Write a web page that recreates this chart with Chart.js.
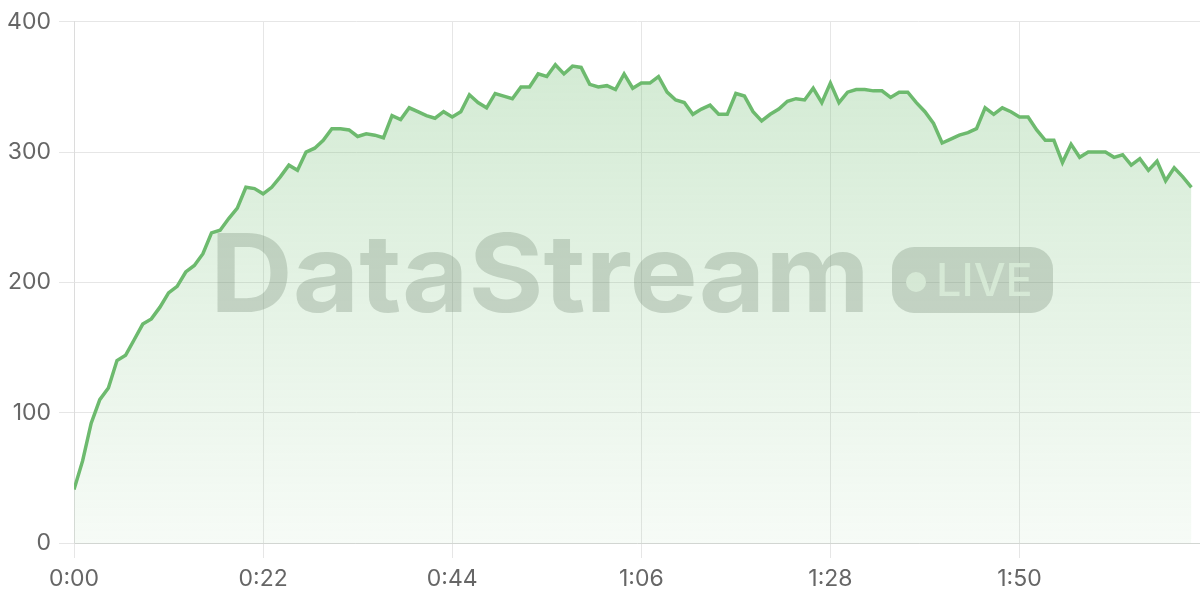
<!DOCTYPE html>
<html>
<head>
<meta charset="utf-8">
<script src="https://cdn.jsdelivr.net/npm/chart.js@4/dist/chart.umd.min.js"></script>
<style>
html,body{margin:0;padding:0;background:#fff;}
#wrap{width:1200px;height:600px;position:relative;}
</style>
</head>
<body>
<div id="wrap"><canvas id="c" width="1200" height="600"></canvas></div>
<script>
// Seconds elapsed (x) and values (y)
const seconds = [
  0,1,2,3,4,5,6,7,8,9,10,11,12,13,14,15,16,17,18,19,
  20,21,22,23,24,25,26,27,28,29,30,31,32,33,34,35,36,37,38,39,
  40,41,42,43,44,45,46,47,48,49,50,51,52,53,54,55,56,57,58,59,
  60,61,62,63,64,65,66,67,68,69,70,71,72,73,74,75,76,77,78,79,
  80,81,82,83,84,85,86,87,88,89,90,91,92,93,94,95,96,97,98,99,
  100,101,102,103,104,105,106,107,108,109,110,111,112,113,114,115,116,117,118,119,
  120,121,122,123,124,125,126,127,128,129,130
];
const values = [
  41,63,92,110,119,140,144,156,168,172,181,192,197,208,213,222,238,240,249,257,
  273,272,268,273,281,290,286,300,303,309,318,318,317,312,314,313,311,328,325,334,
  331,328,326,331,327,331,344,338,334,345,343,341,350,350,360,358,367,360,366,365,
  352,350,351,348,360,349,353,353,358,346,340,338,329,333,336,329,329,345,343,331,
  324,329,333,339,341,340,349,338,353,338,346,348,348,347,347,342,346,346,338,331,
  322,307,310,313,315,318,334,329,334,331,327,327,317,309,309,292,306,296,300,300,
  300,296,298,290,295,286,293,278,288,281,273
];
const yTicks = [0,100,200,300,400];
const xTickSeconds = [0,22,44,66,88,110];
const watermarkText = "DataStream";
const badgeText = "LIVE";

function fmtTime(s){
  const m = Math.floor(s/60), r = Math.round(s%60);
  return m + ":" + (r<10?"0":"") + r;
}

const watermark = {
  id:'watermark',
  beforeDatasetsDraw(chart){
    const ctx = chart.ctx;
    ctx.save();
    const wmColor = 'rgba(98,108,98,0.27)';
    ctx.fillStyle = wmColor;
    ctx.font = 'bold 108px Inter, "Noto Sans", sans-serif';
    ctx.textBaseline = 'alphabetic';
    ctx.textAlign = 'left';
    const base = 312;
    const w = ctx.measureText(watermarkText).width;
    const targetW = 660;
    ctx.save();
    ctx.translate(210, base);
    ctx.scale(targetW / w, 1);
    ctx.fillText(watermarkText, 0, 0);
    ctx.restore();
    // pill
    const px=892, py=247, pw=161, ph=66, r=22;
    ctx.beginPath();
    ctx.moveTo(px+r,py);
    ctx.lineTo(px+pw-r,py);
    ctx.arcTo(px+pw,py,px+pw,py+r,r);
    ctx.lineTo(px+pw,py+ph-r);
    ctx.arcTo(px+pw,py+ph,px+pw-r,py+ph,r);
    ctx.lineTo(px+r,py+ph);
    ctx.arcTo(px,py+ph,px,py+ph-r,r);
    ctx.lineTo(px,py+r);
    ctx.arcTo(px,py,px+r,py,r);
    ctx.closePath();
    ctx.fill();
    ctx.fillStyle = 'rgba(240,245,239,0.92)';
    ctx.beginPath();
    ctx.arc(916,282,10,0,Math.PI*2);
    ctx.fill();
    ctx.font = '500 45px Inter, "Noto Sans", sans-serif';
    ctx.textBaseline = 'alphabetic';
    ctx.fillText(badgeText, 936, 296);
    ctx.restore();
  }
};

const ctx = document.getElementById('c').getContext('2d');
const grad = ctx.createLinearGradient(0, 19, 0, 543);
grad.addColorStop(0, 'rgba(109,187,111,0.32)');
grad.addColorStop(1, 'rgba(109,187,111,0.06)');

new Chart(ctx, {
  type:'line',
  data:{
    datasets:[{
      data: seconds.map((s,i)=>({x:s,y:values[i]})),
      borderColor:'#6dba6e',
      borderWidth:3.5,
      backgroundColor:grad,
      fill:'origin',
      tension:0,
      pointRadius:0
    }]
  },
  options:{
    responsive:false,
    animation:false,
    devicePixelRatio:1,
    layout:{padding:{top:4,right:0,left:0,bottom:0}},
    plugins:{legend:{display:false},tooltip:{enabled:false}},
    scales:{
      x:{
        type:'linear',
        min:0,max:131,
        afterFit(s){ s.height = 57; },
        afterBuildTicks(s){ s.ticks = xTickSeconds.map(v=>({value:v})); },
        ticks:{
          includeBounds:false,
          callback:(v)=>fmtTime(v),
          color:'#666',
          font:{family:'Inter, "Noto Sans", sans-serif', size:23},
          padding:7,
          maxRotation:0
        },
        grid:{color:'#e6e6e6', tickLength:15, drawTicks:true},
        border:{color:'#d2d6d2', width:1}
      },
      y:{
        min:0,max:400,
        afterFit(s){ s.width = 74; },
        afterBuildTicks(s){ s.ticks = yTicks.map(v=>({value:v})); },
        ticks:{
          color:'#666',
          font:{family:'Inter, "Noto Sans", sans-serif', size:23},
          padding:8
        },
        grid:{color:'#e6e6e6', tickLength:15},
        border:{color:'#dcdcdc', width:1}
      }
    }
  },
  plugins:[watermark]
});
</script>
</body>
</html>
